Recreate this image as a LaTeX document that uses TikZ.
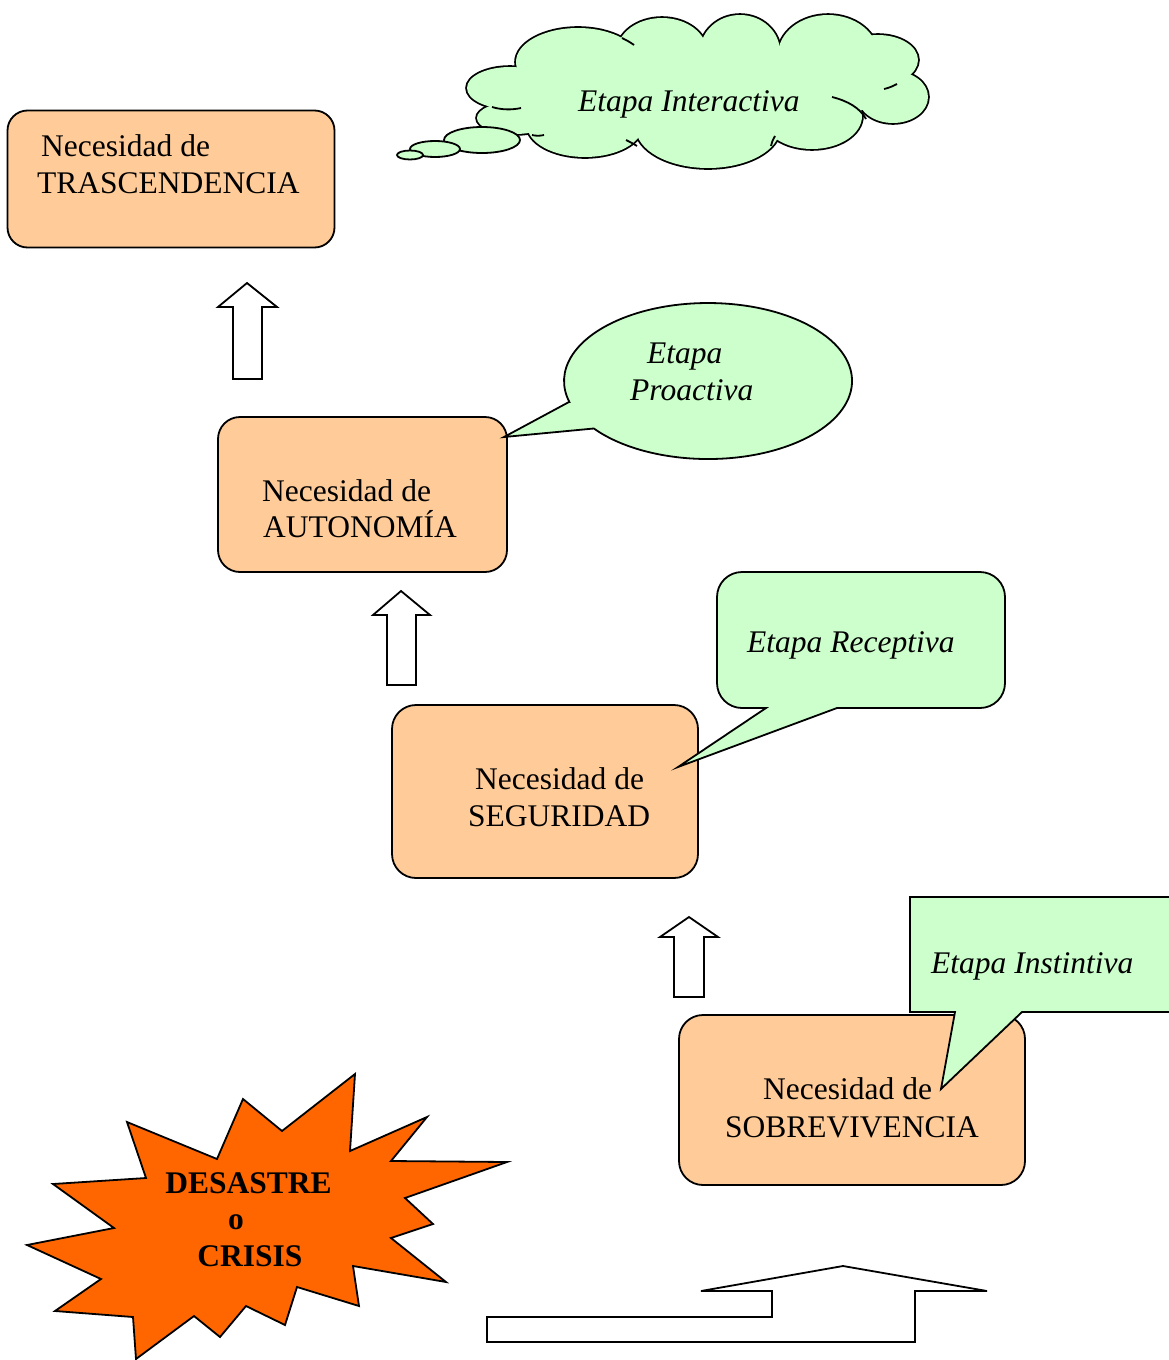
\documentclass[tikz,border=0pt]{standalone}
\usepackage{fontspec}
\setmainfont{Liberation Serif}
\definecolor{peach}{HTML}{FFCC99}
\definecolor{mint}{HTML}{CCFFCC}
\definecolor{blast}{HTML}{FF6600}
\begin{document}
\begin{tikzpicture}[x=1pt,y=-1pt,
  ln/.style={line width=1.8pt, line join=miter},
  needbox/.style={draw, ln, fill=peach, rounded corners=#1, inner sep=0pt},
  txt/.style={inner sep=0pt, font=\fontsize{31.5}{36}\selectfont},
  itxt/.style={txt, font=\fontsize{31.5}{36}\selectfont\itshape},
  btxt/.style={txt, font=\fontsize{31.5}{36}\selectfont\bfseries},
  callout/.style={draw, ln, fill=mint},
  uparrow/.style={draw, ln, fill=white},
  stub/.style={line width=1.8pt}
]
\useasboundingbox (0,0) rectangle (1168,1360);

% ---------------- cloud (Etapa Interactiva) ----------------
\def\lobes{510/88/43/21, 515/118/38/16, 578/62/62/34, 662/52/45/34, 740/52/40/37, 828/55/50/40, 878/60/40/25, 893/97/35/26, 812/116/50/33, 708/128/72/40, 585/125/58/32}
\foreach \cx/\cy/\rx/\ry in \lobes
  \draw[line width=3.6pt] (\cx,\cy) ellipse [x radius=\rx, y radius=\ry];
\foreach \cx/\cy/\rx/\ry in \lobes
  \fill[mint] (\cx,\cy) ellipse [x radius=\rx, y radius=\ry];
\fill[mint] (530,60) rectangle (850,125);
\fill[mint] (840,70) rectangle (890,110);
% interior stubs
\draw[stub] (492,107) .. controls (502,110) and (512,110) .. (521,108);
\draw[stub] (622,38) .. controls (626,40) and (630,42) .. (634,45);
\draw[stub] (897,84) .. controls (893,86) and (889,88) .. (884,89);
\draw[stub] (832,97) .. controls (848,101) and (860,108) .. (866,119);
\draw[stub] (771,146) .. controls (772,142) and (773,139) .. (775,136);
\draw[stub] (637,146) .. controls (634,144) and (630,142) .. (626,140);
\draw[stub] (532,135) .. controls (536,136) and (540,136) .. (544,135);
% thought bubbles
\filldraw[ln, fill=mint] (482,140) ellipse [x radius=38, y radius=13];
\filldraw[ln, fill=mint] (435,149) ellipse [x radius=25, y radius=8];
\filldraw[ln, fill=mint] (410,155) ellipse [x radius=13, y radius=4.5];
\node[itxt, anchor=base west] (interactiva) at (578,111) {Etapa Interactiva};

% ---------------- need boxes ----------------
\node[needbox=20, minimum width=327pt, minimum height=137pt] (b1) at (171,179) {};
\node[txt, anchor=base west] (b1a) at (41,156) {Necesidad de};
\node[txt, anchor=base west] (b1b) at (37,193) {TRASCENDENCIA};

\node[needbox=22, minimum width=289pt, minimum height=155pt] (b2) at (362.5,494.5) {};
\node[txt, anchor=base west] (b2a) at (262,501) {Necesidad de};
\node[txt, anchor=base west] (b2b) at (263,537) {AUTONOMÍA};

\node[needbox=24, minimum width=306pt, minimum height=173pt] (b3) at (545,791.5) {};
\node[txt, anchor=base west] (b3a) at (475,789) {Necesidad de};
\node[txt, anchor=base west] (b3b) at (468,826) {SEGURIDAD};

\node[needbox=24, minimum width=346pt, minimum height=170pt] (b4) at (852,1100) {};
\node[txt, anchor=base west] (b4a) at (763,1099) {Necesidad de};
\node[txt, anchor=base west] (b4b) at (725,1137) {SOBREVIVENCIA};

% ---------------- callouts ----------------
% Proactiva (oval)
\draw[callout] (569,402) -- (504,437) -- (593.8,428.5)
  arc[start angle=142.5, end angle=-195.6, x radius=144, y radius=78] -- cycle;
\node[itxt, anchor=base west] (pro1) at (647,363) {Etapa};
\node[itxt, anchor=base west] (pro2) at (630,400) {Proactiva};

% Receptiva (rounded rectangle)
\draw[callout] (742,572) -- (980,572) arc[start angle=-90, end angle=0, radius=25]
  -- (1005,683) arc[start angle=0, end angle=90, radius=25]
  -- (837,708) -- (678,767) -- (766,708)
  -- (742,708) arc[start angle=90, end angle=180, radius=25]
  -- (717,597) arc[start angle=180, end angle=270, radius=25] -- cycle;
\node[itxt, anchor=base west] (rec) at (747,652) {Etapa Receptiva};

% Instintiva (rectangle)
\draw[callout] (910,897) -- (1180,897) -- (1180,1012) -- (1022,1012)
  -- (941,1089) -- (955,1012) -- (910,1012) -- cycle;
\node[itxt, anchor=base west] (ins) at (931,973) {Etapa Instintiva};

% ---------------- up arrows ----------------
\draw[uparrow] (247,283) -- (277,307) -- (262,307) -- (262,379) -- (233,379) -- (233,307) -- (218,307) -- cycle;
\draw[uparrow] (401,591) -- (430,615) -- (416,615) -- (416,685) -- (387,685) -- (387,615) -- (373,615) -- cycle;
\draw[uparrow] (689,917) -- (718,937) -- (704,937) -- (704,997) -- (674,997) -- (674,937) -- (660,937) -- cycle;

% bottom bent arrow
\draw[uparrow] (487,1317) -- (772,1317) -- (772,1291) -- (701,1291) -- (843,1266)
  -- (987,1291) -- (915,1291) -- (915,1342) -- (487,1342) -- cycle;

% ---------------- explosion ----------------
\draw[ln, fill=blast] (127,1122) -- (217,1159) -- (243,1099) -- (282,1131) -- (355,1074)
  -- (350,1151) -- (427,1117) -- (391,1161) -- (507,1162) -- (405,1198)
  -- (433,1224) -- (391,1238) -- (446,1282) -- (353,1266) -- (359,1306)
  -- (297,1287) -- (285,1325) -- (246,1306) -- (220,1337) -- (194,1316)
  -- (136,1359) -- (133,1317) -- (55,1311) -- (101,1279) -- (27,1245)
  -- (114,1228) -- (53,1184) -- (146,1178) -- cycle;
\node[btxt, anchor=base] (ex1) at (248.5,1193) {DESASTRE};
\node[btxt, anchor=base] (ex2) at (236,1229) {o};
\node[btxt, anchor=base] (ex3) at (250,1266) {CRISIS};
\end{tikzpicture}
\end{document}
